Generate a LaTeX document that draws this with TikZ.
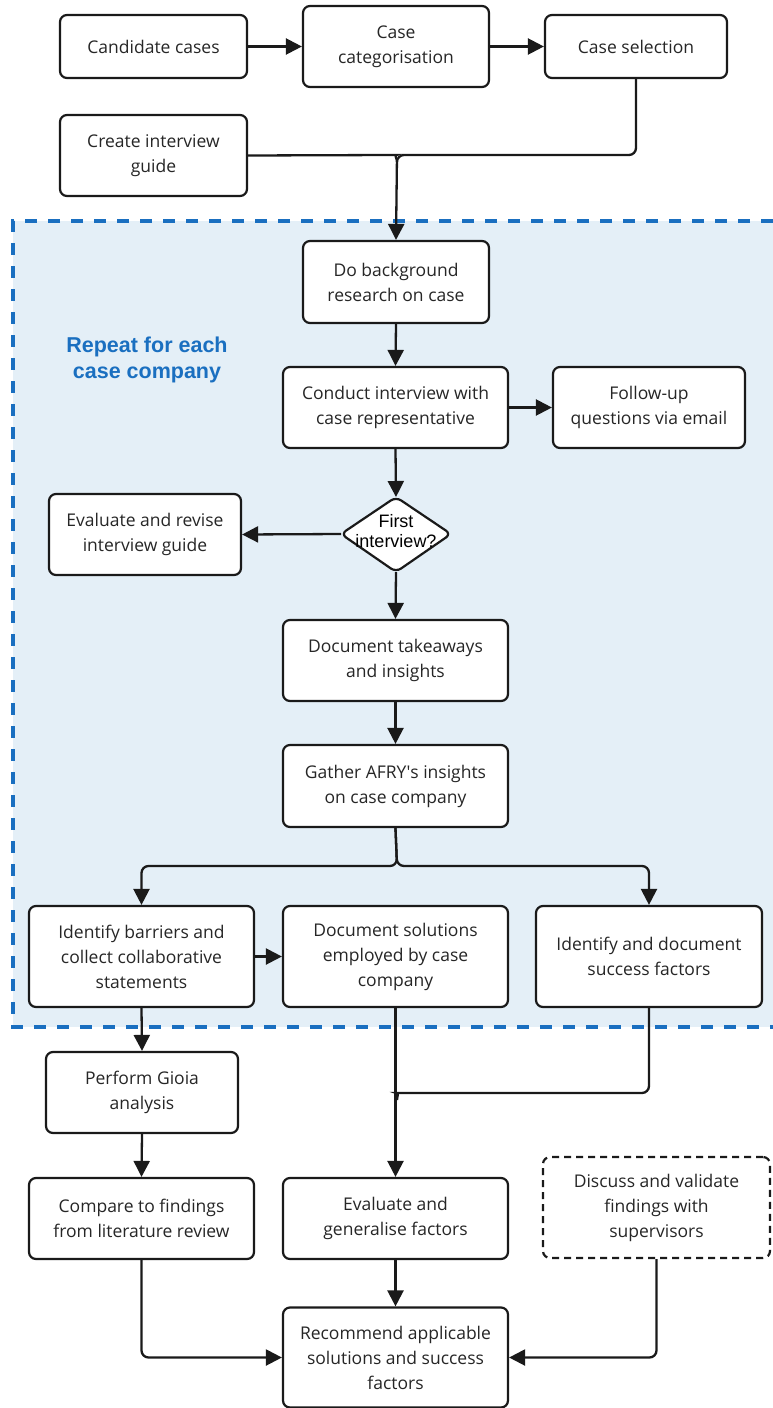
\documentclass[tikz,border=0pt]{standalone}
\usepackage{fontspec}
\setmainfont{Open Sans}
\newfontfamily\arialf{Liberation Sans}
\usetikzlibrary{arrows.meta,shapes.geometric}
\definecolor{regfill}{HTML}{E4EFF7}
\definecolor{regblue}{HTML}{1A6FC0}
\definecolor{lineblk}{HTML}{1A1A1A}
\definecolor{txt}{HTML}{262626}
\tikzset{
  box/.style={draw=lineblk, fill=white, line width=2.2pt, rounded corners=7pt,
    align=center, text=txt, font=\fontsize{17.5}{25}\selectfont, inner sep=2pt},
  dbox/.style={box, dashed, dash pattern=on 7pt off 5pt},
  conn/.style={draw=lineblk, line width=2.3pt, rounded corners=7pt},
  arr/.style={conn, -{Triangle[length=16pt,width=16pt]}},
}
\begin{document}
\begin{tikzpicture}[x=1pt,y=-1pt]
\useasboundingbox (0,0) rectangle (773,1408);
% region
\fill[regfill] (13,221) rectangle (773,1027);
\draw[regblue, line width=3.2pt, dash pattern=on 12pt off 11pt] (773,221) -- (13,221) -- (13,1027) -- (773,1027);
\node[text=regblue, align=center, font=\arialf\bfseries\fontsize{21.5}{26}\selectfont] (lbl) at (147,360) {Repeat for each\\case company};

% nodes
\node[box, minimum width=187pt, minimum height=63pt] (cand) at (153.5,46.5) {Candidate cases};
\node[box, minimum width=186pt, minimum height=81pt] (cat) at (396,46.5) {Case\\categorisation};
\node[box, minimum width=182pt, minimum height=63pt] (sel) at (636,46.5) {Case selection};
\node[box, minimum width=187pt, minimum height=81pt] (guide) at (153.5,155.5) {Create interview\\guide};
\node[box, minimum width=186pt, minimum height=82pt] (bg) at (396,282) {Do background\\research on case};
\node[box, minimum width=225pt, minimum height=81pt] (conduct) at (395.5,407.5) {Conduct interview with\\case representative};
\node[box, minimum width=192pt, minimum height=81pt] (follow) at (649,407.5) {Follow-up\\questions via email};
\draw[draw=lineblk, fill=white, line width=2.2pt, rounded corners=6pt]
  (396,497) -- (451,534) -- (396,572) -- (341,534) -- cycle;
\node[align=center, text=black, font=\arialf\fontsize{18}{20}\selectfont, inner sep=0pt] (first) at (396,531) {First\\interview?};
\coordinate (dtop) at (396,497);
\coordinate (dbot) at (396,572);
\coordinate (dleft) at (341,534);
\node[box, minimum width=192pt, minimum height=81pt] (evalrev) at (145,534.5) {Evaluate and revise\\interview guide};
\node[box, minimum width=225pt, minimum height=81pt] (take) at (395.5,660.5) {Document takeaways\\and insights};
\node[box, minimum width=225pt, minimum height=82pt] (afry) at (395.5,786) {Gather AFRY\textquotesingle s insights\\on case company};
\node[box, minimum width=225pt, minimum height=101pt] (barr) at (141.5,956.5) {Identify barriers and\\collect collaborative\\statements};
\node[box, minimum width=225pt, minimum height=101pt] (sol) at (395.5,956.5) {Document solutions\\employed by case\\company};
\node[box, minimum width=226pt, minimum height=101pt] (succ) at (649,956.5) {Identify and document\\success factors};
\node[box, minimum width=192pt, minimum height=81pt] (gioia) at (142,1092.5) {Perform Gioia\\analysis};
\node[box, minimum width=225pt, minimum height=81pt] (comp) at (141.5,1218.5) {Compare to findings\\from literature review};
\node[box, minimum width=225pt, minimum height=81pt] (gen) at (395.5,1218.5) {Evaluate and\\generalise factors};
\node[dbox, minimum width=227pt, minimum height=101pt] (disc) at (656.5,1207.5) {Discuss and validate\\findings with\\supervisors};
\node[box, minimum width=225pt, minimum height=100pt] (rec) at (395.5,1357.5) {Recommend applicable\\solutions and success\\factors};

% connectors
\draw[arr] (cand.east) -- (cat.west);
\draw[arr] (cat.east) -- (sel.west);
\draw[arr] (sel.south) |- (397,155) -- (bg.north);
\draw[conn] (guide.east) -- (390,155) to[out=0,in=90] (397,162);
\draw[arr] (bg.south) -- (conduct.north);
\draw[arr] (conduct.east) -- (follow.west);
\draw[arr] (conduct.south) -- (dtop);
\draw[arr] (dleft) -- (evalrev.east);
\draw[arr] (dbot) -- (take.north);
\draw[arr] (take.south) -- (afry.north);
\draw[arr] (afry.south) -- (397,866) -| (barr.north);
\draw[arr] (afry.south) -- (397,866) -| (succ.north);
\draw[arr] (barr.east) -- (sol.west);
\draw[arr] (barr.south) -- (gioia.north);
\draw[arr] (gioia.south) -- (comp.north);
\draw[arr] (sol.south) -- (gen.north);
\draw[conn] (succ.south) |- (403,1093) to[out=180,in=90] (397,1100);
\draw[arr] (gen.south) -- (rec.north);
\draw[arr] (comp.south) |- (rec.west);
\draw[arr] (disc.south) |- (rec.east);
\end{tikzpicture}
\end{document}
